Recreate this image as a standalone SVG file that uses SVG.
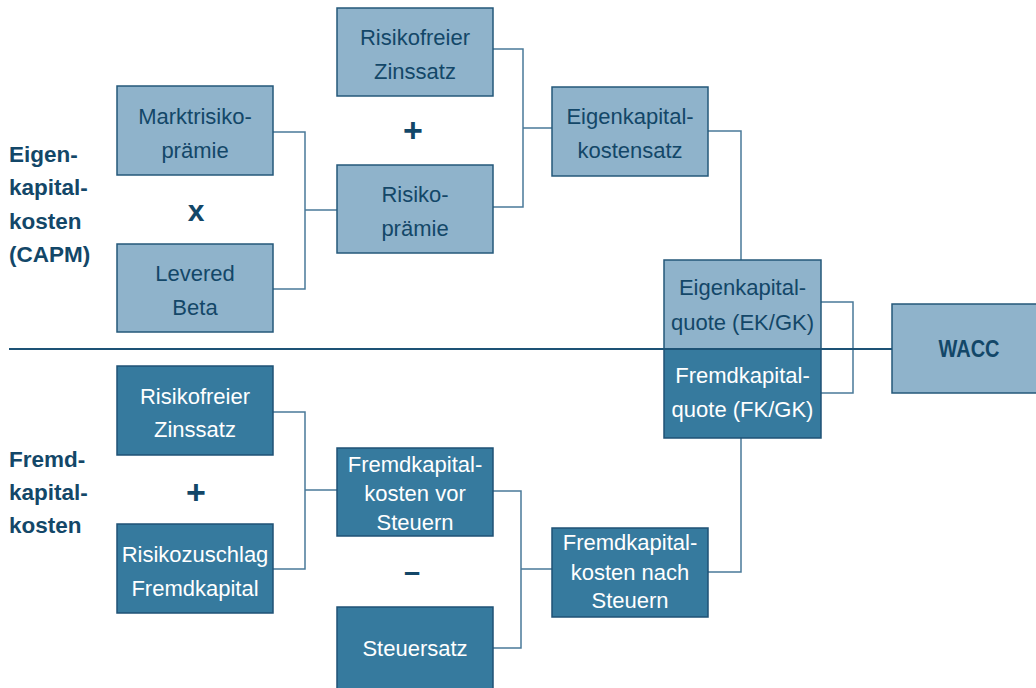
<svg xmlns="http://www.w3.org/2000/svg" width="1036" height="688" viewBox="0 0 1036 688">
<style>
.lt{fill:#8fb3cb;stroke:#24587a;stroke-width:1.5}
.dk{fill:#367a9e;stroke:#1f5275;stroke-width:1.5}
.tl{font-family:"Liberation Sans",Arial,sans-serif;font-size:22px;fill:#134768;text-anchor:middle}
.td{font-family:"Liberation Sans",Arial,sans-serif;font-size:22px;fill:#ffffff;text-anchor:middle}
.lab{font-family:"Liberation Sans",Arial,sans-serif;font-size:22.5px;font-weight:bold;fill:#134768}
.op{font-family:"Liberation Sans",Arial,sans-serif;font-weight:bold;fill:#134768;text-anchor:middle}
.con{fill:none;stroke:#4a7a99;stroke-width:1.5}
.div{fill:none;stroke:#1d5275;stroke-width:2}
</style>
<rect width="1036" height="688" fill="#ffffff"/>
<g id="connectors">
<path class="con" d="M273,132H305V289H273M305,210H337"/>
<path class="con" d="M493,49H523V207H493M523,128H552"/>
<path class="con" d="M708,131H741V260"/>
<path class="con" d="M821,302H853V393H821"/>
<path class="con" d="M273,412H305V569H273M305,490H337"/>
<path class="con" d="M493,491H521V648H493M521,569H552"/>
<path class="con" d="M708,572H741V438"/>
</g>
<g id="labels">
<text class="lab" x="9" y="162">Eigen-</text>
<text class="lab" x="9" y="195">kapital-</text>
<text class="lab" x="9" y="229">kosten</text>
<text class="lab" x="9" y="262">(CAPM)</text>
<text class="lab" x="9" y="467">Fremd-</text>
<text class="lab" x="9" y="500">kapital-</text>
<text class="lab" x="9" y="533">kosten</text>
<text class="op" x="196" y="221" font-size="30">x</text>
<text class="op" x="413" y="142" font-size="34">+</text>
<text class="op" x="196" y="504" font-size="34">+</text>
<text class="op" x="412" y="581.5" font-size="29">–</text>
</g>
<g id="n-marktrisikopraemie">
<rect class="lt" x="117" y="86" width="156" height="89"/>
<text class="tl" x="195" y="123.5">Marktrisiko-</text>
<text class="tl" x="195" y="157.5">prämie</text>
</g>
<g id="n-levered-beta">
<rect class="lt" x="117" y="244" width="156" height="88"/>
<text class="tl" x="195" y="281">Levered</text>
<text class="tl" x="195" y="315">Beta</text>
</g>
<g id="n-risikofreier-ek">
<rect class="lt" x="337" y="8" width="156" height="88"/>
<text class="tl" x="415" y="45">Risikofreier</text>
<text class="tl" x="415" y="79">Zinssatz</text>
</g>
<g id="n-risikopraemie">
<rect class="lt" x="337" y="165" width="156" height="88"/>
<text class="tl" x="415" y="202">Risiko-</text>
<text class="tl" x="415" y="236">prämie</text>
</g>
<g id="n-ek-kostensatz">
<rect class="lt" x="552" y="87" width="156" height="89"/>
<text class="tl" x="630" y="124">Eigenkapital-</text>
<text class="tl" x="630" y="158">kostensatz</text>
</g>
<g id="n-wacc">
<rect class="lt" x="892" y="304" width="150" height="89"/>
<text class="op" x="969" y="357" font-size="24" textLength="61" lengthAdjust="spacingAndGlyphs">WACC</text>
</g>
<g id="n-risikofreier-fk">
<rect class="dk" x="117" y="366" width="156" height="89"/>
<text class="td" x="195" y="404">Risikofreier</text>
<text class="td" x="195" y="437">Zinssatz</text>
</g>
<g id="n-risikozuschlag">
<rect class="dk" x="117" y="524" width="156" height="89"/>
<text class="td" x="195" y="561.5">Risikozuschlag</text>
<text class="td" x="195" y="595.5">Fremdkapital</text>
</g>
<g id="n-fk-vor">
<rect class="dk" x="337" y="448" width="156" height="88"/>
<text class="td" x="415" y="472">Fremdkapital-</text>
<text class="td" x="415" y="501">kosten vor</text>
<text class="td" x="415" y="530">Steuern</text>
</g>
<g id="n-steuersatz">
<rect class="dk" x="337" y="607" width="156" height="89"/>
<text class="td" x="415" y="656">Steuersatz</text>
</g>
<g id="n-fk-nach">
<rect class="dk" x="552" y="528" width="156" height="89"/>
<text class="td" x="630" y="550">Fremdkapital-</text>
<text class="td" x="630" y="580">kosten nach</text>
<text class="td" x="630" y="608">Steuern</text>
</g>
<g id="n-fk-quote">
<rect class="dk" x="664" y="349" width="157" height="89"/>
<text class="td" x="742.5" y="383">Fremdkapital-</text>
<text class="td" x="742.5" y="417">quote (FK/GK)</text>
</g>
<g id="n-ek-quote">
<rect class="lt" x="664" y="260" width="157" height="89"/>
<text class="tl" x="742.5" y="295">Eigenkapital-</text>
<text class="tl" x="742.5" y="330">quote (EK/GK)</text>
</g>
<g id="divider">
<path class="div" d="M9,349H892"/>
</g>
</svg>
